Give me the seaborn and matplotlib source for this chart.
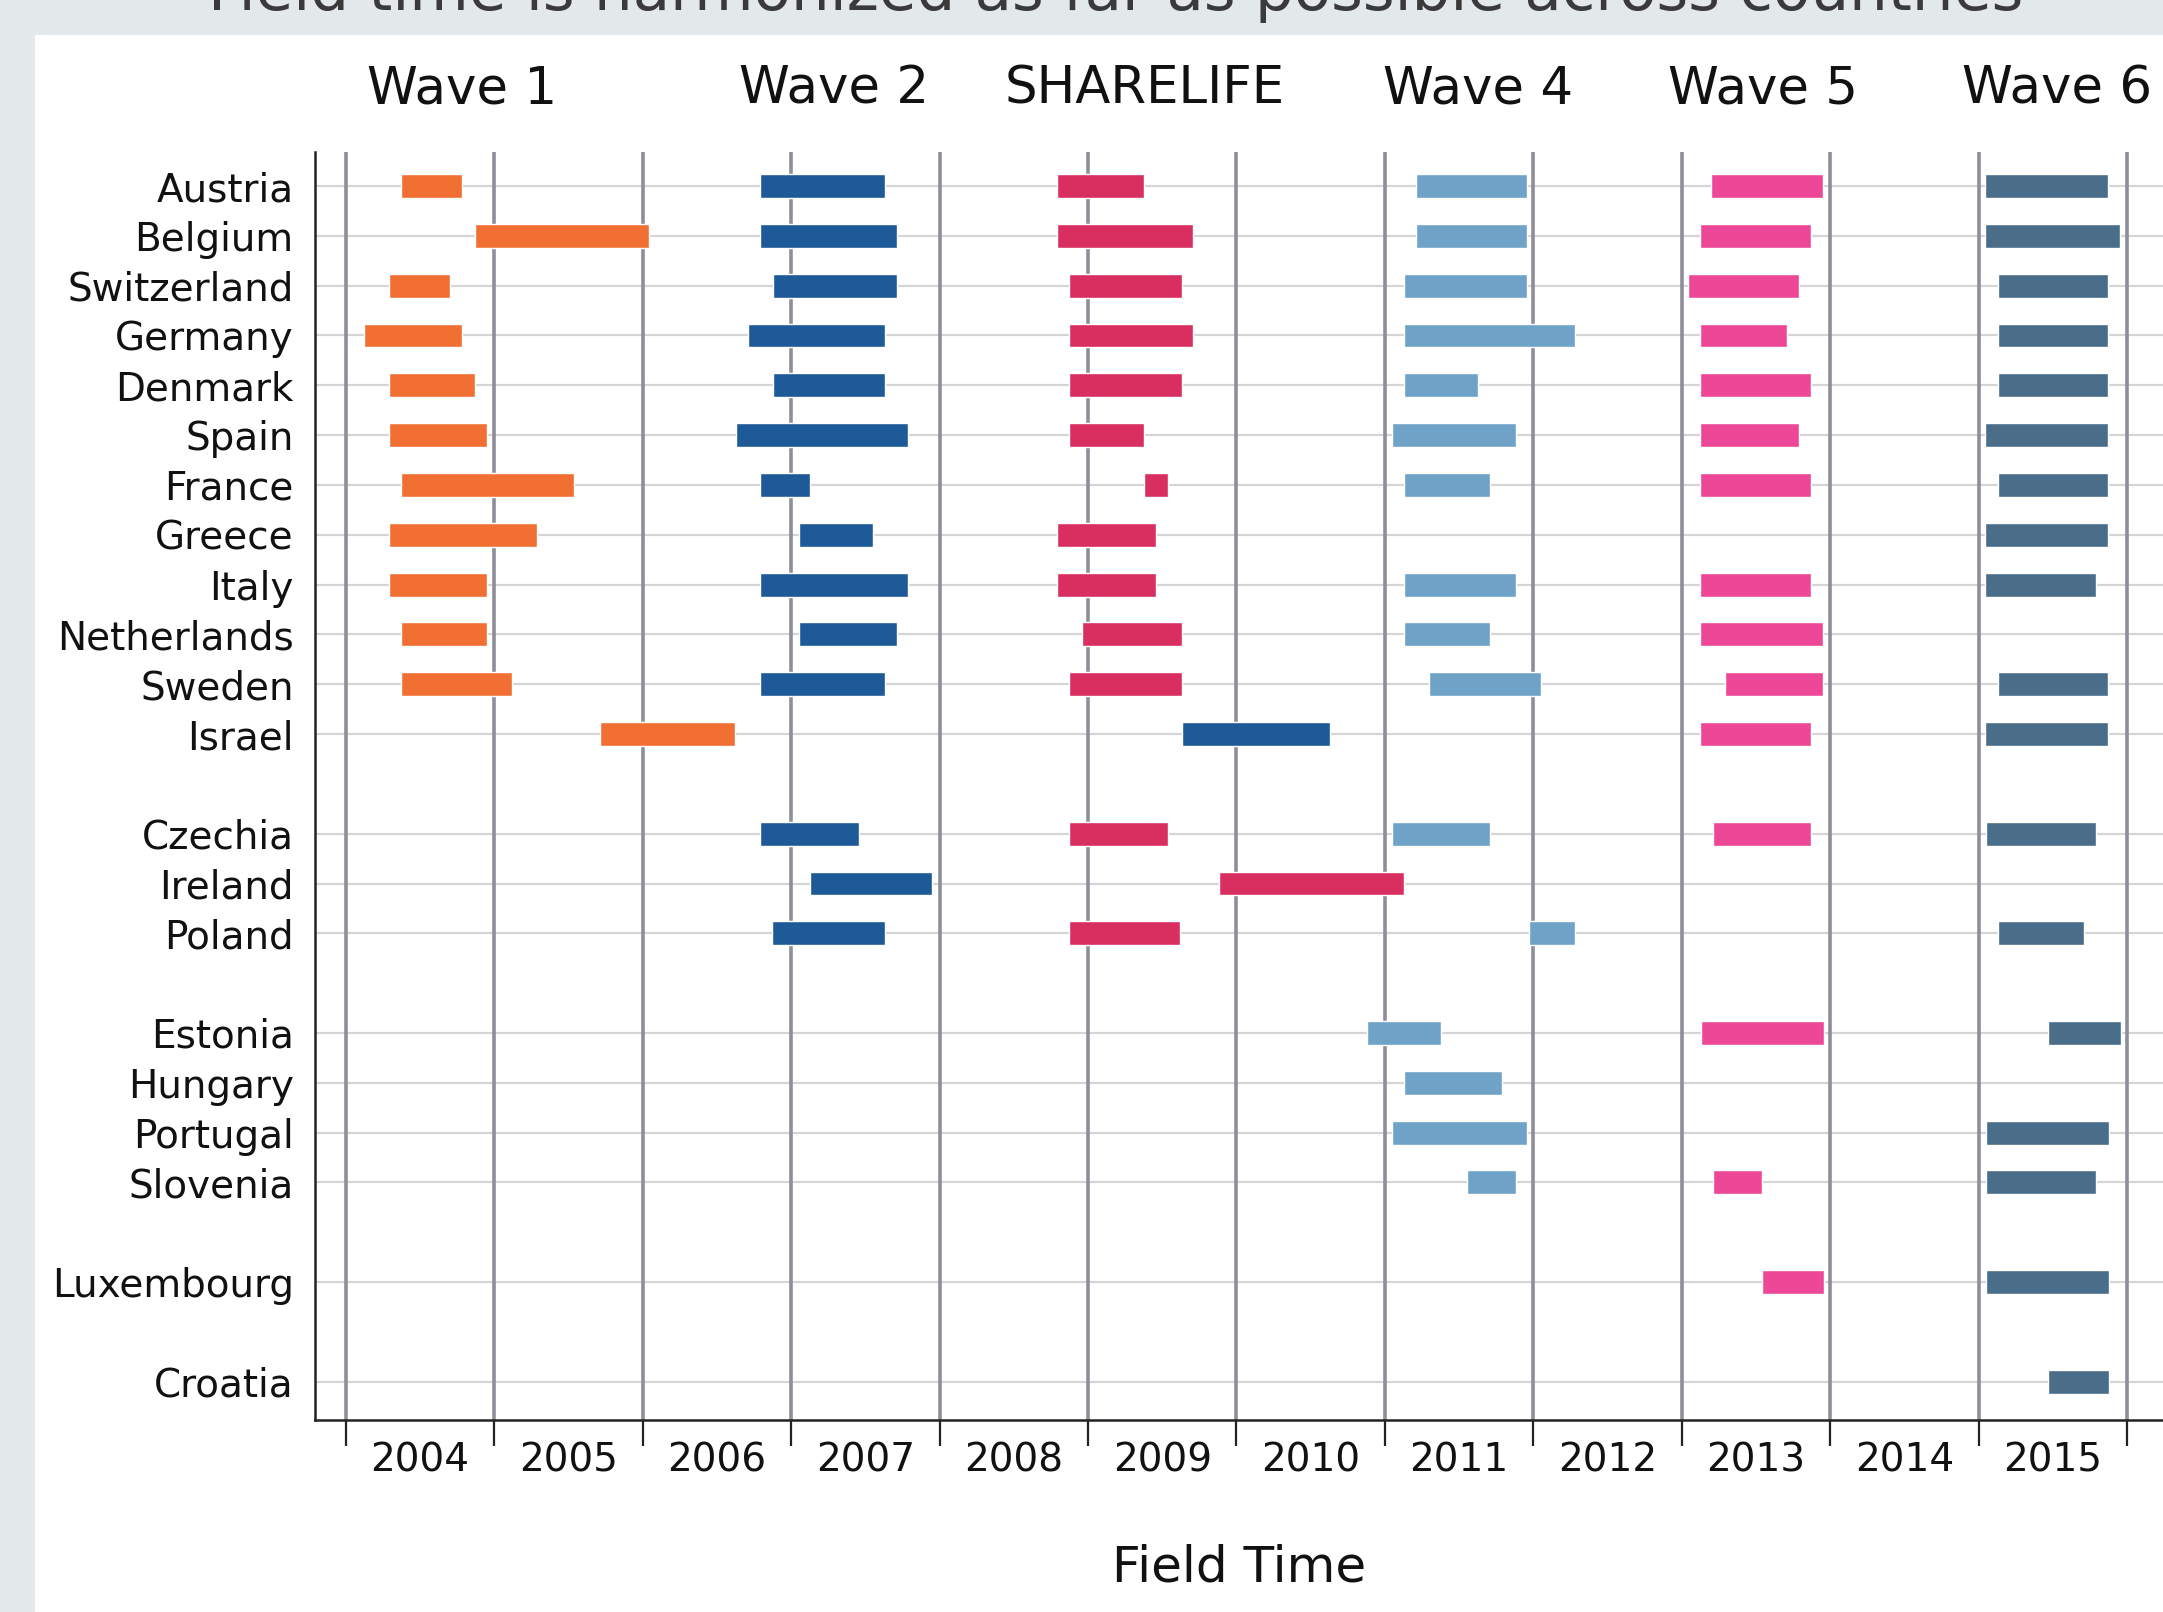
import pandas as pd
import seaborn as sns
import matplotlib.pyplot as plt
from matplotlib.patches import Rectangle
from matplotlib.transforms import blended_transform_factory

# Country groups (an empty row separates each group)
group_old = ["Austria", "Belgium", "Switzerland", "Germany", "Denmark", "Spain",
             "France", "Greece", "Italy", "Netherlands", "Sweden", "Israel"]
group_w2 = ["Czechia", "Ireland", "Poland"]
group_w4 = ["Estonia", "Hungary", "Portugal", "Slovenia"]
group_lu = ["Luxembourg"]
group_hr = ["Croatia"]

waves = ["Wave 1", "Wave 2", "SHARELIFE", "Wave 4", "Wave 5", "Wave 6"]
years = list(range(2004, 2016))

# Field periods as decimal years (start, end)
wave1 = {
    "Austria": (2004.37, 2004.78), "Belgium": (2004.87, 2006.04),
    "Switzerland": (2004.29, 2004.70), "Germany": (2004.12, 2004.78),
    "Denmark": (2004.29, 2004.87), "Spain": (2004.29, 2004.95),
    "France": (2004.37, 2005.54), "Greece": (2004.29, 2005.29),
    "Italy": (2004.29, 2004.95), "Netherlands": (2004.37, 2004.95),
    "Sweden": (2004.37, 2005.12), "Israel": (2005.71, 2006.62),
}
wave2 = {
    "Austria": (2006.79, 2007.63), "Belgium": (2006.79, 2007.71),
    "Switzerland": (2006.88, 2007.71), "Germany": (2006.71, 2007.63),
    "Denmark": (2006.88, 2007.63), "Spain": (2006.63, 2007.79),
    "France": (2006.79, 2007.13), "Greece": (2007.05, 2007.55),
    "Italy": (2006.79, 2007.79), "Netherlands": (2007.05, 2007.71),
    "Sweden": (2006.79, 2007.63), "Israel": (2009.63, 2010.63),
    "Czechia": (2006.79, 2007.46), "Ireland": (2007.13, 2007.95),
    "Poland": (2006.87, 2007.63),
}
sharelife = {
    "Austria": (2008.79, 2009.38), "Belgium": (2008.79, 2009.71),
    "Switzerland": (2008.87, 2009.63), "Germany": (2008.87, 2009.71),
    "Denmark": (2008.87, 2009.63), "Spain": (2008.87, 2009.38),
    "France": (2009.38, 2009.54), "Greece": (2008.79, 2009.46),
    "Italy": (2008.79, 2009.46), "Netherlands": (2008.96, 2009.63),
    "Sweden": (2008.87, 2009.63), "Czechia": (2008.87, 2009.54),
    "Ireland": (2009.88, 2011.13), "Poland": (2008.87, 2009.62),
}
wave4 = {
    "Austria": (2011.21, 2011.96), "Belgium": (2011.21, 2011.96),
    "Switzerland": (2011.13, 2011.96), "Germany": (2011.13, 2012.28),
    "Denmark": (2011.13, 2011.63), "Spain": (2011.05, 2011.88),
    "France": (2011.13, 2011.71), "Italy": (2011.13, 2011.88),
    "Netherlands": (2011.13, 2011.71), "Sweden": (2011.30, 2012.05),
    "Czechia": (2011.05, 2011.71), "Poland": (2011.97, 2012.28),
    "Estonia": (2010.88, 2011.38), "Hungary": (2011.13, 2011.79),
    "Portugal": (2011.05, 2011.96), "Slovenia": (2011.55, 2011.88),
}
wave5 = {
    "Austria": (2013.20, 2013.95), "Belgium": (2013.12, 2013.87),
    "Switzerland": (2013.04, 2013.79), "Germany": (2013.12, 2013.71),
    "Denmark": (2013.12, 2013.87), "Spain": (2013.12, 2013.79),
    "France": (2013.12, 2013.87), "Italy": (2013.12, 2013.87),
    "Netherlands": (2013.12, 2013.95), "Sweden": (2013.29, 2013.95),
    "Israel": (2013.12, 2013.87), "Czechia": (2013.21, 2013.87),
    "Estonia": (2013.13, 2013.96), "Slovenia": (2013.21, 2013.54),
    "Luxembourg": (2013.54, 2013.96),
}
wave6 = {
    "Austria": (2015.04, 2015.87), "Belgium": (2015.04, 2015.95),
    "Switzerland": (2015.13, 2015.87), "Germany": (2015.13, 2015.87),
    "Denmark": (2015.13, 2015.87), "Spain": (2015.04, 2015.87),
    "France": (2015.13, 2015.87), "Greece": (2015.04, 2015.87),
    "Italy": (2015.04, 2015.79), "Sweden": (2015.13, 2015.87),
    "Israel": (2015.04, 2015.87), "Czechia": (2015.05, 2015.79),
    "Poland": (2015.13, 2015.71), "Estonia": (2015.47, 2015.96),
    "Portugal": (2015.05, 2015.88), "Slovenia": (2015.05, 2015.79),
    "Luxembourg": (2015.05, 2015.88), "Croatia": (2015.47, 2015.88),
}

# wave label centres on the time axis
wave_label_x = [2004.78, 2007.29, 2009.38, 2011.63, 2013.55, 2015.53]

colors = {
    "Wave 1": "#F26F33", "Wave 2": "#1E5A97", "SHARELIFE": "#D82F60",
    "Wave 4": "#6EA2C6", "Wave 5": "#EC4897", "Wave 6": "#4A6D89",
}

# row positions with one empty row between groups
countries, ypos = [], []
row = 0
for grp in [group_old, group_w2, group_w4, group_lu, group_hr]:
    for c in grp:
        countries.append(c)
        ypos.append(row)
        row += 1
    row += 1
ymap = dict(zip(countries, ypos))

records = []
for name, d in zip(waves, [wave1, wave2, sharelife, wave4, wave5, wave6]):
    for c, (s, e) in d.items():
        records.append({"wave": name, "country": c, "start": s, "end": e})
df = pd.DataFrame(records)
df["y"] = df["country"].map(ymap)

sns.set_theme(style="white")
plt.rcParams["font.family"] = ["DejaVu Sans"]
plt.rcParams["text.color"] = "#111111"
plt.rcParams["xtick.color"] = "#111111"
plt.rcParams["ytick.color"] = "#111111"

fig = plt.figure(figsize=(21.63, 16.12), dpi=100)
fig.patch.set_facecolor("#E3E8EB")
fig.patches.append(Rectangle((0.0162, 0), 1, 0.9785, transform=fig.transFigure,
                             facecolor="white", edgecolor="none", zorder=-5))
fig.text(0.516, 0.9935, "Field time is harmonized as far as possible across countries",
         ha="center", va="baseline", fontsize=44, color="#3a3a3a")

ax = fig.add_axes([0.1454, 0.1189, 0.8546, 0.7871])
ax.set_facecolor("none")
ax.set_zorder(2)

for c, y in ymap.items():
    ax.axhline(y, color="#D5D5D8", lw=1.6, zorder=1)
for yr in years + [2016]:
    ax.axvline(yr, color="#8E8E9B", lw=2.6, zorder=2)

for name in waves:
    sub = df[df["wave"] == name]
    ax.barh(sub["y"], sub["end"] - sub["start"], left=sub["start"], height=0.48,
            color=colors[name], zorder=3)

ax.set_xlim(2003.789, 2016.242)
ax.set_ylim(24.775, -0.692)

ax.set_yticks(ypos)
ax.set_yticklabels(countries, fontsize=28)
ax.tick_params(axis="y", length=0, pad=15)

ax.set_xticks(years + [2016])
ax.set_xticklabels([])
ax.set_xticks([y + 0.5 for y in years], [str(y) for y in years], minor=True)
ax.tick_params(axis="x", which="major", length=19, width=1.6, color="#222222",
               direction="out", bottom=True)
ax.tick_params(axis="x", which="minor", length=0, pad=15, labelsize=28)

for s in ["top", "right"]:
    ax.spines[s].set_visible(False)
for s in ["left", "bottom"]:
    ax.spines[s].set_color("#222222")
    ax.spines[s].set_linewidth(1.8)

trans = blended_transform_factory(ax.transData, fig.transFigure)
for name, x in zip(waves, wave_label_x):
    ax.text(x, 0.9444, name, transform=trans, ha="center", va="center",
            fontsize=37, color="#111111", clip_on=False)

fig.text(0.5727, 0.0274, "Field Time", ha="center", va="center", fontsize=36,
         color="#111111")

fig.savefig("out.png", dpi=100)
